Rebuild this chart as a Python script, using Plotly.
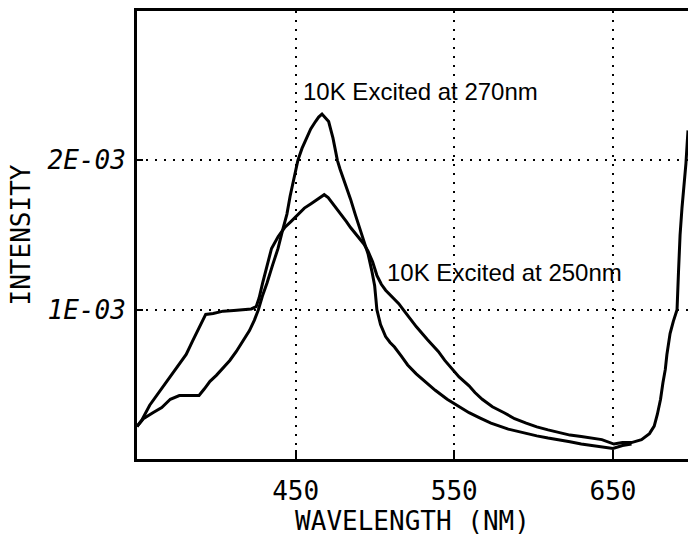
import plotly.graph_objects as go

# ---- data ----
wl_250 = [350.0, 353.0, 358.0, 365.6, 370.0, 376.7, 381.0, 385.0, 389.0, 393.3,
          398.0, 404.3, 411.0, 418.2, 422.0, 425.1, 427.0, 429.2, 432.0, 434.8,
          439.0, 443.1, 447.0, 451.4, 455.5, 459.7, 464.0, 468.0, 470.5, 473.5,
          476.0, 479.1, 482.0, 484.6, 487.0, 490.1, 493.0, 495.7, 498.5, 501.2,
          504.0, 506.7, 509.5, 512.3, 515.0, 517.8, 522.0, 526.1, 533.0, 539.9,
          544.0, 548.2, 553.0, 559.3, 563.0, 567.6, 574.0, 581.4, 588.0, 595.3,
          602.0, 609.1, 616.0, 622.9, 630.0, 636.8, 643.0, 650.6, 656.0, 661.7,
          668.0, 673.0, 676.0, 678.0, 680.0, 681.5, 683.0, 684.0, 685.0, 686.0,
          688.0, 690.4, 691.3, 692.3, 693.5, 695.0, 696.0, 696.7, 697.3]
int_250 = [0.218, 0.26, 0.36, 0.47, 0.54, 0.63, 0.70, 0.79, 0.88, 0.968,
           0.975, 0.99, 0.995, 1.0, 1.005, 1.02, 1.08, 1.18, 1.30, 1.41,
           1.49, 1.55, 1.59, 1.64, 1.68, 1.71, 1.74, 1.77, 1.75, 1.71,
           1.67, 1.63, 1.59, 1.55, 1.52, 1.48, 1.44, 1.39, 1.32, 1.23,
           1.17, 1.13, 1.10, 1.07, 1.04, 1.0, 0.94, 0.885, 0.80, 0.72,
           0.66, 0.61, 0.55, 0.49, 0.445, 0.40, 0.35, 0.31, 0.27, 0.24,
           0.215, 0.195, 0.175, 0.16, 0.15, 0.14, 0.13, 0.10, 0.11, 0.11,
           0.13, 0.17, 0.22, 0.30, 0.40, 0.51, 0.60, 0.70, 0.77, 0.84,
           0.92, 1.0, 1.25, 1.5, 1.68, 1.85, 1.98, 2.1, 2.2]

wl_270 = [350.0, 354.0, 360.0, 365.6, 371.0, 376.7, 383.0, 389.1, 392.5, 396.0,
          400.0, 404.3, 408.5, 412.6, 417.0, 420.9, 424.0, 426.5, 429.0, 432.0,
          435.5, 438.9, 441.7, 444.5, 446.5, 448.6, 450.0, 451.4, 454.0, 456.9,
          459.5, 462.5, 464.5, 466.6, 468.5, 470.8, 472.0, 473.5, 475.0, 476.3,
          478.0, 480.4, 482.5, 484.6, 487.5, 490.1, 493.0, 495.7, 498.0, 499.8,
          500.5, 501.2, 503.5, 506.7, 509.5, 512.3, 516.5, 520.6, 526.0, 531.6,
          538.0, 545.5, 552.0, 559.3, 566.0, 573.1, 584.0, 595.3, 602.0, 609.1,
          616.0, 622.9, 630.0, 636.8, 643.0, 650.0, 656.0, 661.7]
int_270 = [0.218, 0.27, 0.31, 0.345, 0.40, 0.425, 0.425, 0.425, 0.47, 0.52,
           0.56, 0.61, 0.66, 0.72, 0.79, 0.86, 0.93, 1.0, 1.09, 1.18,
           1.30, 1.41, 1.53, 1.64, 1.76, 1.87, 1.94, 2.0, 2.08, 2.15,
           2.21, 2.26, 2.29, 2.31, 2.29, 2.26, 2.21, 2.15, 2.07, 2.0,
           1.94, 1.87, 1.80, 1.74, 1.64, 1.55, 1.46, 1.37, 1.26, 1.16,
           1.08, 1.0, 0.90, 0.82, 0.78, 0.75, 0.69, 0.63, 0.57, 0.52,
           0.46, 0.40, 0.355, 0.31, 0.275, 0.24, 0.20, 0.17, 0.155, 0.14,
           0.125, 0.115, 0.10, 0.09, 0.08, 0.07, 0.09, 0.10]

x_tick_vals = [450, 550, 650]
x_tick_text = ["450", "550", "650"]
y_tick_vals = [1e-3, 2e-3]
y_tick_text = ["1E-03", "2E-03"]

scale = 1e-3
y250 = [v * scale for v in int_250]
y270 = [v * scale for v in int_270]

fig = go.Figure()
fig.add_trace(go.Scatter(x=wl_250, y=y250, mode="lines",
                         line=dict(color="black", width=3),
                         name="10K Excited at 250nm", showlegend=False))
fig.add_trace(go.Scatter(x=wl_270, y=y270, mode="lines",
                         line=dict(color="black", width=3),
                         name="10K Excited at 270nm", showlegend=False))

ann_font = dict(family="Liberation Sans, Arial, sans-serif", size=24, color="black")
fig.add_annotation(x=453.5, y=2.46e-3, text="10K Excited at 270nm", showarrow=False,
                   xanchor="left", yanchor="middle", font=ann_font)
fig.add_annotation(x=506.5, y=1.25e-3, text="10K Excited at 250nm", showarrow=False,
                   xanchor="left", yanchor="middle", font=ann_font)

tick_font = dict(family="DejaVu Sans Mono, monospace", size=26, color="black")

fig.update_layout(
    width=688, height=540,
    margin=dict(l=137, r=0, t=11, b=81),
    paper_bgcolor="white", plot_bgcolor="white",
    xaxis=dict(
        range=[350, 697.3],
        tickmode="array", tickvals=x_tick_vals, ticktext=x_tick_text,
        ticks="inside", ticklen=9, tickwidth=2, tickcolor="black",
        showline=True, linecolor="black", linewidth=3, mirror=True,
        showgrid=True, gridcolor="black", gridwidth=2, griddash="2px,7px",
        zeroline=False,
        tickfont=tick_font, ticklabelstandoff=7,
        title=dict(text="WAVELENGTH (NM)", font=tick_font, standoff=3),
    ),
    yaxis=dict(
        range=[0, 3.0e-3],
        tickmode="array", tickvals=y_tick_vals, ticktext=y_tick_text,
        ticks="inside", ticklen=6, tickwidth=2, tickcolor="black",
        showline=True, linecolor="black", linewidth=3, mirror=False,
        showgrid=True, gridcolor="black", gridwidth=2, griddash="2px,7px",
        zeroline=False,
        tickfont=dict(family="DejaVu Sans Mono, monospace", size=26, color="black",
                      style="italic"),
        ticklabelstandoff=3,
        title=dict(text="INTENSITY", font=tick_font, standoff=10),
    ),
)

fig.write_html("out.html", config={"displayModeBar": False},
               post_script="document.body.style.margin='0px';")
